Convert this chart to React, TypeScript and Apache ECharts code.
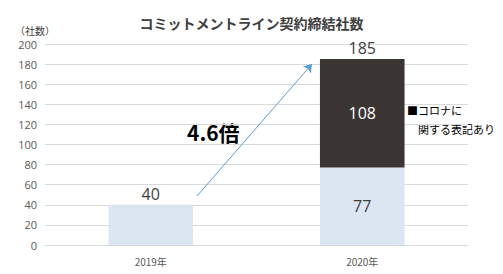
import React, { useEffect, useRef } from "react";
import * as echarts from "echarts";

const categories = ["2019年", "2020年"];
const baseValues = [40, 77];
const coronaValues = [null, 108];
const totals = [null, 185];
const yTicks = { min: 0, max: 200, interval: 20 };
const title = "コミットメントライン契約締結社数";
const unitLabel = "（社数）";
const ratioLabel = "4.6倍";
const noteLines = ["■コロナに", "関する表記あり"];

const JP = '"Noto Sans CJK JP", "Noto Sans", sans-serif';
const NUM = '"Open Sans", "Noto Sans", sans-serif';

export default function App() {
  const ref = useRef<HTMLDivElement>(null);
  useEffect(() => {
    if (!ref.current) return;
    const chart = echarts.init(ref.current, null, { renderer: "svg" });
    chart.setOption({
      animation: false,
      backgroundColor: "#ffffff",
      title: {
        text: title,
        left: "center",
        top: 11,
        textStyle: { fontFamily: JP, fontSize: 14, fontWeight: "bold", color: "#404040" },
      },
      grid: { left: 45, right: 35, top: 44, bottom: 29 },
      xAxis: {
        type: "category",
        data: categories,
        axisLine: { lineStyle: { color: "#D9D9D9" } },
        axisTick: { show: false },
        axisLabel: { color: "#595959", fontSize: 10, fontFamily: JP, margin: 11 },
      },
      yAxis: {
        type: "value",
        min: yTicks.min,
        max: yTicks.max,
        interval: yTicks.interval,
        axisLine: { show: false },
        axisTick: { show: false },
        splitLine: { lineStyle: { color: "#D9D9D9", width: 1 } },
        axisLabel: { color: "#595959", fontSize: 11, fontFamily: NUM, margin: 8 },
      },
      graphic: [
        {
          type: "text",
          left: 15,
          top: 25,
          style: { text: unitLabel, fontSize: 10, fontFamily: JP, fill: "#404040" },
        },
        {
          type: "text",
          left: 187,
          top: 121,
          style: { text: ratioLabel, fontSize: 21, fontWeight: "bold", fontFamily: JP, fill: "#000000" },
        },
        {
          type: "text",
          left: 407,
          top: 104,
          style: { text: noteLines[0], fontSize: 11, fontFamily: JP, fill: "#000000" },
        },
        {
          type: "text",
          left: 418,
          top: 123,
          style: { text: noteLines[1], fontSize: 11, fontFamily: JP, fill: "#000000" },
        },
      ],
      series: [
        {
          name: "base",
          type: "bar",
          stack: "s",
          barWidth: "40%",
          data: baseValues.map((v, i) => ({
            value: v,
            label: {
              show: true,
              position: i === 0 ? "top" : "inside",
              distance: 3,
              color: "#404040",
              fontSize: 16,
              fontFamily: NUM,
            },
          })),
          itemStyle: { color: "#DCE6F2" },
          markLine: {
            silent: true,
            symbol: ["none", "arrow"],
            symbolSize: 8,
            label: { show: false },
            lineStyle: { color: "#5B9BD5", width: 1, type: "solid" },
            data: [[{ x: 197, y: 196 }, { x: 312, y: 64 }]],
          },
        },
        {
          name: "corona",
          type: "bar",
          stack: "s",
          data: coronaValues,
          itemStyle: { color: "#3A3533" },
          label: { show: true, position: "inside", color: "#ffffff", fontSize: 16, fontFamily: NUM },
        },
        {
          name: "total",
          type: "bar",
          stack: "s",
          data: totals.map((t) => (t == null ? null : 0)),
          itemStyle: { color: "transparent" },
          label: {
            show: true,
            position: "top",
            distance: 3,
            color: "#404040",
            fontSize: 16,
            fontFamily: NUM,
            formatter: (p: any) => (totals[p.dataIndex] == null ? "" : String(totals[p.dataIndex])),
          },
        },
      ],
    });
    return () => chart.dispose();
  }, []);
  return <div ref={ref} style={{ width: 503, height: 274, position: "absolute", left: 0, top: 0 }} />;
}
